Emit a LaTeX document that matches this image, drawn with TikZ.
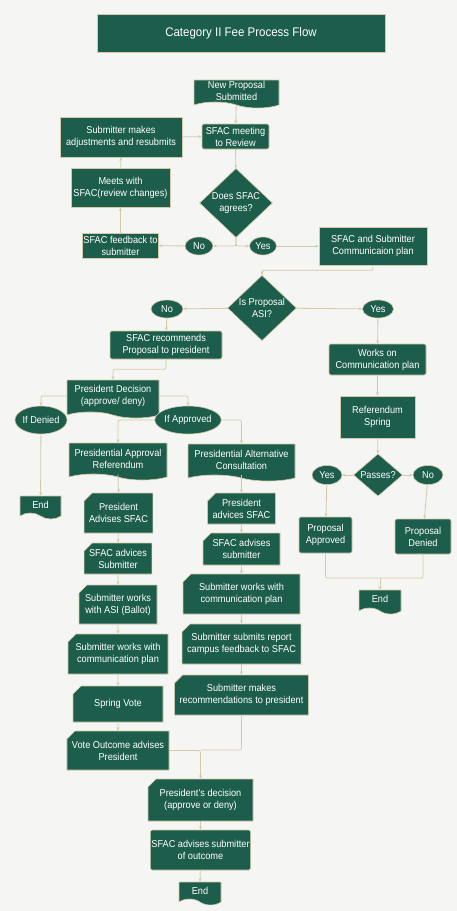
\documentclass[tikz,border=0pt]{standalone}
\usepackage{fontspec}
\setmainfont{Liberation Sans}[FakeStretch=0.92]
\usetikzlibrary{shapes.geometric,shapes.misc,shapes.symbols,arrows.meta}
\definecolor{sgreen}{HTML}{1C5E4B}
\definecolor{sline}{HTML}{D3CBA8}
\definecolor{spage}{HTML}{F5F5F3}

\begin{document}
\begin{tikzpicture}[x=1pt,y=-1pt,
    font=\fontsize{10}{12}\selectfont,
    every node/.style={text=white, align=center, inner sep=1pt},
    blk/.style={rectangle, fill=sgreen, draw=sline, line width=0.6pt},
    rblk/.style={blk, rounded corners=2pt},
    card/.style={chamfered rectangle, chamfered rectangle corners=north west,
      chamfered rectangle xsep=4pt, chamfered rectangle ysep=4pt,
      fill=sgreen, draw=sline, line width=0.6pt},
    doc/.style={tape, tape bend top=none, tape bend bottom=out and in,
      tape bend height=6pt, fill=sgreen, draw=sline, line width=0.6pt},
    dia/.style={diamond, fill=sgreen, draw=sline, line width=0.6pt, inner sep=0pt},
    oval/.style={ellipse, fill=sgreen, draw=sline, line width=0.6pt, inner sep=0pt},
    conn/.style={draw=sline, line width=0.8pt, -{Stealth[length=3.5pt,width=3pt]}},
    link/.style={draw=sline, line width=0.8pt}]
    \fill[spage] (0,0) rectangle (457,911);
    \useasboundingbox (0,0) rectangle (457,911);
    % title
    \node[blk, minimum width=288, minimum height=38, font=\fontsize{12.5}{14}\selectfont] (tt) at (241,33) {Category II Fee Process Flow};
    % review loop
    \node[doc, minimum width=85, minimum height=28] (np) at (236.5,91) {New Proposal\\Submitted};
    \node[rblk, minimum width=67, minimum height=25] (meet) at (235.5,136.5) {SFAC meeting\\to Review};
    \node[blk, minimum width=122, minimum height=40] (adj) at (121,137) {Submitter makes\\adjustments and resubmits};
    \node[blk, minimum width=99, minimum height=39] (chg) at (120.5,187.5) {Meets with\\SFAC(review changes)};
    \node[dia, minimum width=73, minimum height=49] (agr) at (236,203) {Does SFAC\\agrees?};
    \node[blk, minimum width=73, minimum height=25] (fb) at (120.5,245.5) {SFAC feedback to\\submitter};
    \node[oval, minimum width=28, minimum height=18] (noa) at (199,246) {No};
    \node[oval, minimum width=27, minimum height=18] (yesa) at (263,246) {Yes};
    \node[blk, minimum width=108, minimum height=38] (com) at (373,246) {SFAC and Submitter\\Communicaion plan};
    % ASI split
    \node[dia, minimum width=69, minimum height=64] (asi) at (262,308) {Is Proposal\\ASI?};
    \node[oval, minimum width=32, minimum height=18] (nob) at (167,309) {No};
    \node[oval, minimum width=31, minimum height=18] (yesb) at (378,309) {Yes};
    \node[rblk, minimum width=112, minimum height=28] (rec) at (166,345) {SFAC recommends\\Proposal to president};
    \node[rblk, minimum width=97, minimum height=31] (wcp) at (377.5,359.5) {Works on\\Communication plan};
    \node[doc, minimum width=92, minimum height=38] (pd) at (113,396) {President Decision\\(approve/ deny)};
    \node[oval, minimum width=50, minimum height=28] (den) at (41,420) {If Denied};
    \node[oval, minimum width=51, minimum height=28] (app) at (188,420) {If Approved};
    \node[blk, minimum width=75, minimum height=42] (ref) at (377.5,417) {Referendum\\Spring};
    \node[dia, minimum width=49, minimum height=33] (pas) at (378,475) {Passes?};
    \node[oval, minimum width=30, minimum height=19] (yesc) at (327,475) {Yes};
    \node[oval, minimum width=30, minimum height=19] (noc) at (428,475) {No};
    \node[doc, minimum width=98, minimum height=37] (par) at (118,458.5) {Presidential Approval\\Referendum};
    \node[doc, minimum width=107, minimum height=37] (pac) at (241.5,459.5) {Presidential Alternative\\Consultation};
    \node[doc, minimum width=41, minimum height=23] (enda) at (40.5,504.5) {End};
    % left column
    \node[card, minimum width=67, minimum height=40] (lpa) at (118.5,513) {President\\Advises SFAC};
    \node[card, minimum width=62, minimum height=31] (lsa) at (118,558.5) {SFAC advices\\Submitter};
    \node[card, minimum width=78, minimum height=39] (lsw) at (118,604.5) {Submitter works\\with ASI (Ballot)};
    \node[card, minimum width=100, minimum height=40] (lsc) at (118,654) {Submitter works with\\communication plan};
    \node[card, minimum width=90, minimum height=36] (lsv) at (118,704) {Spring Vote};
    \node[card, minimum width=100, minimum height=39] (lvo) at (118,750.5) {Vote Outcome advises\\President};
    % middle column
    \node[card, minimum width=63, minimum height=31] (mpa) at (241.5,508.5) {President\\advices SFAC};
    \node[card, minimum width=77, minimum height=32] (msa) at (241.5,549) {SFAC advises\\submitter};
    \node[card, minimum width=117, minimum height=40] (msc) at (241.5,594) {Submitter works with\\communication plan};
    \node[card, minimum width=117, minimum height=40] (msr) at (241.5,644) {Submitter submits report\\campus feedback to SFAC};
    \node[card, minimum width=133, minimum height=40] (mmr) at (241.5,695) {Submitter makes\\recommendations to president};
    % right column
    \node[rblk, minimum width=53, minimum height=36] (rpa) at (325.5,535) {Proposal\\Approved};
    \node[rblk, minimum width=56, minimum height=35] (rpd) at (423,536.5) {Proposal\\Denied};
    \node[doc, minimum width=42, minimum height=24] (endb) at (380,599) {End};
    % bottom
    \node[card, minimum width=105, minimum height=42] (fpd) at (200.5,800) {President's decision\\(approve or deny)};
    \node[rblk, minimum width=99, minimum height=40] (fso) at (200.5,850) {SFAC advises submitter\\of outcome};
    \node[doc, minimum width=42, minimum height=23] (endc) at (200,890.5) {End};
    \coordinate (jb) at (380,578);
    \coordinate (jc) at (200.5,750);
    % connectors
    \draw[conn] (np) -- (meet);
    \draw[conn] (adj) -- (meet);
    \draw[conn] (meet) -- (agr);
    \draw[conn, rounded corners=2pt] (agr.south) |- (noa.east);
    \draw[conn, rounded corners=2pt] (agr.south) |- (yesa.west);
    \draw[conn] (noa) -- (fb);
    \draw[conn] (yesa) -- (com);
    \draw[conn] (fb) -- (chg);
    \draw[conn] (chg) -- (adj);
    \draw[conn, rounded corners=2pt] (com.south) -- ++(0,5) -| (asi.north);
    \draw[conn] (asi) -- (nob);
    \draw[conn] (asi) -- (yesb);
    \draw[conn] (nob) -- (rec);
    \draw[conn] (yesb) -- (wcp);
    \draw[conn, rounded corners=2pt] (rec.south) -- ++(0,10) -| (pd.north);
    \draw[conn, rounded corners=2pt] (pd.west) -| (den.north);
    \draw[conn, rounded corners=2pt] (pd.east) -| (app.north);
    \draw[conn, rounded corners=2pt] (app.west) -| (par.north);
    \draw[conn, rounded corners=2pt] (app.east) -| (pac.north);
    \draw[conn] (den) -- (enda);
    \draw[conn] (par.south) -- (lpa.north);
    \draw[conn] (lpa) -- (lsa);
    \draw[conn] (lsa) -- (lsw);
    \draw[conn] (lsw) -- (lsc);
    \draw[conn] (lsc) -- (lsv);
    \draw[conn] (lsv) -- (lvo);
    \draw[conn] (pac.south) -- (mpa.north);
    \draw[conn] (mpa) -- (msa);
    \draw[conn] (msa) -- (msc);
    \draw[conn] (msc) -- (msr);
    \draw[conn] (msr) -- (mmr);
    \draw[conn] (wcp) -- (ref);
    \draw[conn] (ref) -- (pas);
    \draw[conn] (pas) -- (yesc);
    \draw[conn] (pas) -- (noc);
    \draw[conn] (yesc) -- (rpa);
    \draw[conn] (noc) -- (rpd);
    \draw[link, rounded corners=2pt] (rpa.south) |- (jb);
    \draw[link, rounded corners=2pt] (rpd.south) |- (jb);
    \draw[conn] (jb) -- (endb.north);
    \draw[conn, rounded corners=2pt] (lvo.east) -| (fpd.north);
    \draw[link, rounded corners=2pt] (mmr.south) |- (jc);
    \draw[conn] (fpd) -- (fso);
    \draw[conn] (fso) -- (endc);
\end{tikzpicture}
\end{document}
